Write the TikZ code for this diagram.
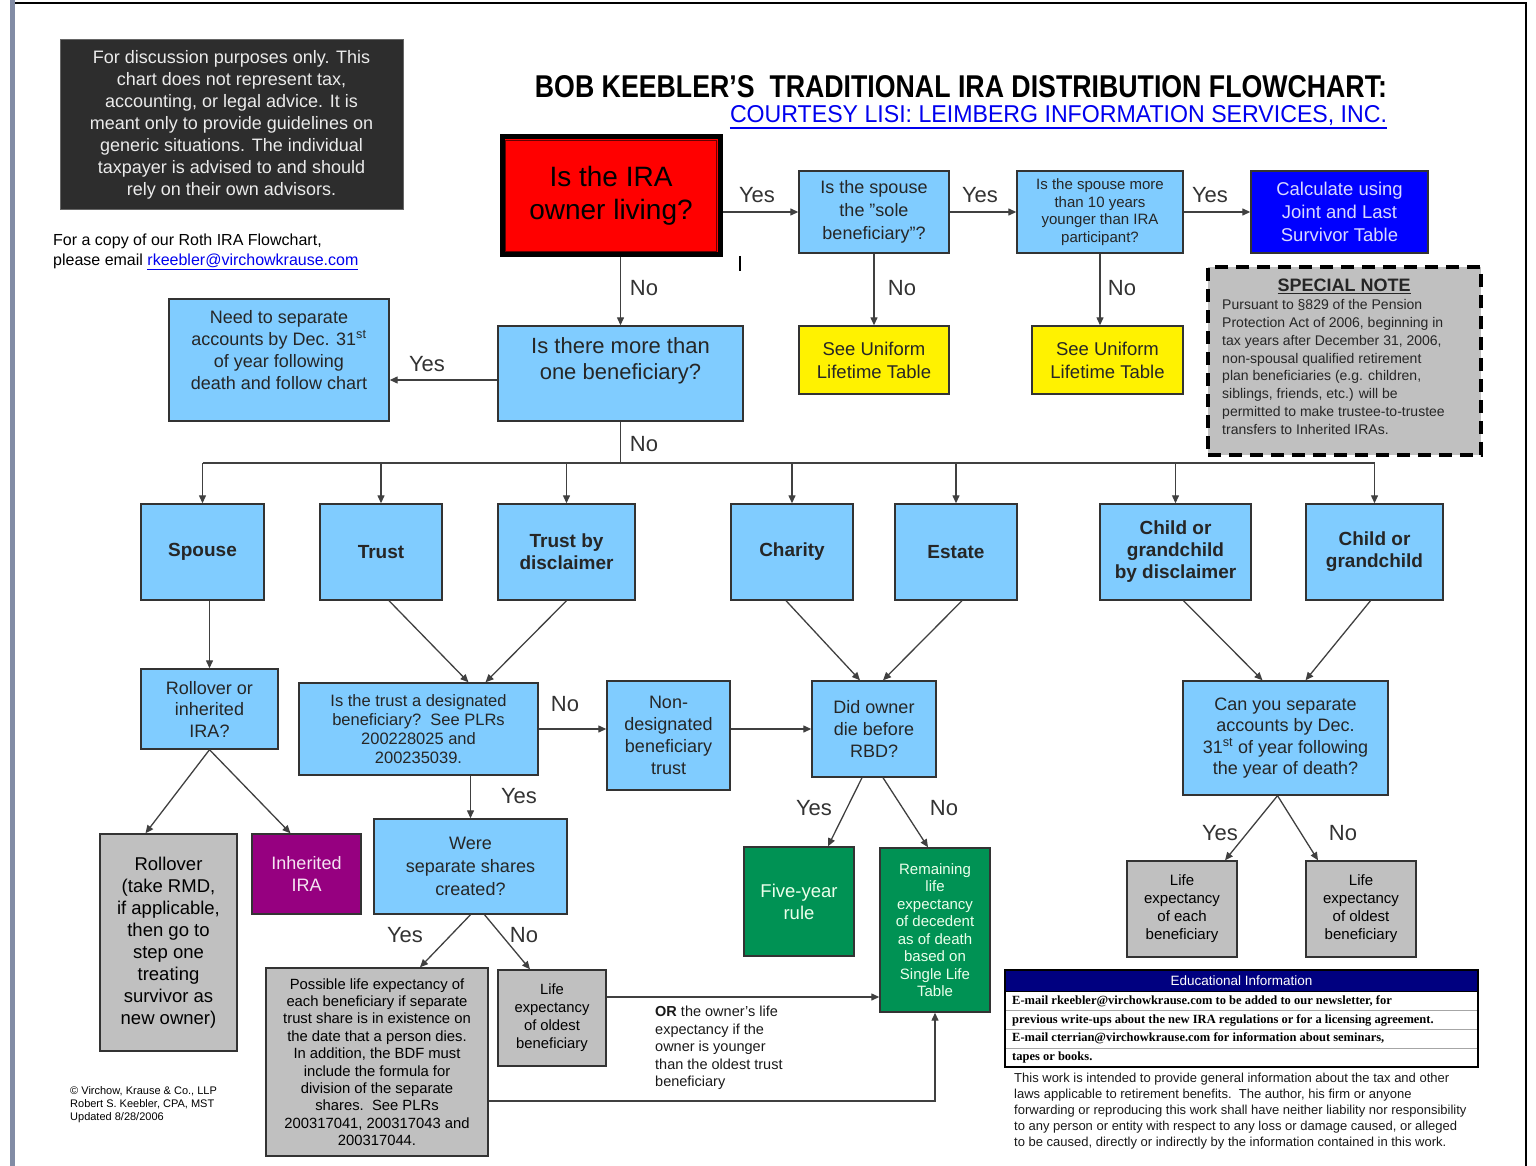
\documentclass[tikz,border=0pt]{standalone}
\usepackage{fontspec}
\setmainfont{Liberation Sans}
\newfontfamily\edufont{Liberation Serif}
\usetikzlibrary{arrows.meta}
\definecolor{qblue}{RGB}{128,204,255}
\definecolor{boxgray}{RGB}{192,192,192}
\definecolor{grnbox}{RGB}{0,146,84}
\definecolor{purp}{RGB}{150,0,128}
\definecolor{navyhead}{RGB}{0,0,128}
\definecolor{discdark}{RGB}{45,45,45}
\definecolor{linkblue}{RGB}{0,0,238}
\definecolor{framebar}{RGB}{130,140,165}
\begin{document}
\begin{tikzpicture}[x=1pt, y=-1pt,
    box/.style={draw=black!80, line width=1.4pt, inner sep=2pt, align=center, text=black!85},
    qbox/.style={box, fill=qblue},
    gbox/.style={box, fill=boxgray, text=black},
    sz/.style 2 args={minimum width=#1pt, minimum height=#2pt},
    fs/.style 2 args={font=\fontsize{#1}{#2}\selectfont},
    bene/.style={qbox, font=\fontsize{19}{22}\selectfont\bfseries},
    lbl/.style={font=\fontsize{22}{24}\selectfont, text=black!80, inner sep=0pt},
    edurow/.style={anchor=west, inner sep=0pt, font=\edufont\bfseries\fontsize{12.5}{14}\selectfont},
    arr/.style={draw=black!75, line width=1.3pt, -{Triangle[length=8pt, width=7pt]}}]
\useasboundingbox (0,0) rectangle (1536,1166);
\fill[framebar] (10,0) rectangle (15,1166);
\draw[line width=2pt] (15,3) -- (1526,3) -- (1526,1166);

\node[fill=discdark, draw=black!60, line width=1pt, sz={343}{170}, align=center, text=black!8, fs={18}{22}] (disc) at (231.5,125) {For discussion purposes only. This\\chart does not represent tax,\\accounting, or legal advice. It is\\meant only to provide guidelines on\\generic situations. The individual\\taxpayer is advised to and should\\rely on their own advisors.};
\node[anchor=west, align=left, fs={16}{20}, inner sep=0pt] (email) at (53,252) {For a copy of our Roth IRA Flowchart,\\please email \textcolor{linkblue}{\underline{rkeebler@virchowkrause.com}}};
\node[inner sep=0pt] (title) at (961,87) {\resizebox{852pt}{22pt}{\bfseries BOB KEEBLER'S\ \ TRADITIONAL IRA DISTRIBUTION FLOWCHART:}};
\node[inner sep=0pt, text=linkblue] (sub) at (1058.5,116) {\resizebox{657pt}{17pt}{COURTESY LISI: LEIMBERG INFORMATION SERVICES, INC.}};
\draw[linkblue, line width=2pt] ([yshift=-1.5pt]sub.south west) -- ([yshift=-1.5pt]sub.south east);

\node[box, fill=red, draw=black, line width=5pt, sz={218}{118}, fs={28}{33}, text=black] (living) at (611,196) {Is the IRA\\owner living?};
\draw[red!40!black, line width=1pt] ([shift={(6,6)}]living.north west) rectangle ([shift={(-6,-6)}]living.south east);
\draw[line width=2.5pt] (740,256) -- (740,271);
\node[qbox, sz={150}{82}, fs={18}{23}] (sole) at (874,212) {Is the spouse\\the "sole\\beneficiary"?};
\node[qbox, sz={166}{82}, fs={15}{17.5}] (ten) at (1100,212) {Is the spouse more\\than 10 years\\younger than IRA\\participant?};
\node[box, fill=blue, sz={177}{82}, fs={18.5}{23}, text=blue!15] (jlst) at (1339.5,212) {Calculate using\\Joint and Last\\Survivor Table};
\node[box, fill=yellow, sz={150}{68}, fs={18.5}{23}] (unif1) at (874,360) {See Uniform\\Lifetime Table};
\node[box, fill=yellow, sz={151}{68}, fs={18.5}{23}] (unif2) at (1107.5,360) {See Uniform\\Lifetime Table};
\node[box, fill=boxgray, draw=black, line width=3.5pt, dash pattern=on 13pt off 8pt, sz={273}{188}] (note) at (1344.5,361) {};
\node[inner sep=0pt, font=\fontsize{18}{20}\selectfont\bfseries, text=black!85] (notehead) at (1344,286) {\underline{SPECIAL NOTE}};
\node[anchor=west, align=left, inner sep=0pt, fs={14}{17.8}, text=black!85] (notebody) at (1222,367) {Pursuant to \S829 of the Pension\\Protection Act of 2006, beginning in\\tax years after December 31, 2006,\\non-spousal qualified retirement\\plan beneficiaries (e.g. children,\\siblings, friends, etc.) will be\\permitted to make trustee-to-trustee\\transfers to Inherited IRAs.};

\node[qbox, sz={245}{95}, fs={22}{26}, text depth=30pt] (more) at (620.5,373.5) {Is there more than\\one beneficiary?};
\node[qbox, sz={220}{122}, fs={18}{22}, text depth=21pt] (need) at (279,360) {Need to separate\\accounts by Dec. 31\textsuperscript{st}\\of year following\\death and follow chart};

\node[bene, sz={123}{96}] (spouse) at (202.5,552) {Spouse};
\node[bene, sz={122}{96}] (trust) at (381,552) {Trust};
\node[bene, sz={137}{96}] (trustdis) at (566.5,552) {Trust by\\disclaimer};
\node[bene, sz={122}{96}] (charity) at (792,552) {Charity};
\node[bene, sz={122}{96}] (estate) at (956,552) {Estate};
\node[bene, sz={151}{96}] (childdis) at (1175.5,552) {Child or\\grandchild\\by disclaimer};
\node[bene, sz={137}{96}] (child) at (1374.5,552) {Child or\\grandchild};

\node[qbox, sz={137}{80}, fs={18}{21.5}] (rollq) at (209.5,709) {Rollover or\\inherited\\IRA?};
\node[qbox, sz={239}{92}, fs={16.5}{19}] (trustq) at (418.5,729) {Is the trust a designated\\beneficiary?\ \ See PLRs\\200228025 and\\200235039.};
\node[qbox, sz={123}{109}, fs={18}{22}] (nondes) at (668.5,735.5) {Non-\\designated\\beneficiary\\trust};
\node[qbox, sz={124}{96}, fs={18}{22}] (rbd) at (874,729) {Did owner\\die before\\RBD?};
\node[qbox, sz={205}{114}, fs={18}{21.5}] (canyou) at (1285.5,738) {Can you separate\\accounts by Dec.\\31\textsuperscript{st} of year following\\the year of death?};

\node[gbox, sz={137}{217}, fs={18.5}{22}] (rollover) at (168.5,942.5) {Rollover\\(take RMD,\\if applicable,\\then go to\\step one\\treating\\survivor as\\new owner)};
\node[box, fill=purp, sz={109}{80}, fs={18}{22}, text=purp!10] (inherited) at (306.5,874) {Inherited\\IRA};
\node[qbox, sz={193}{95}, fs={18}{23}] (shares) at (470.5,866.5) {Were\\separate shares\\created?};
\node[box, fill=grnbox, sz={110}{109}, fs={18.5}{22}, text=green!8] (fiveyr) at (799,901.5) {Five-year\\rule};
\node[box, fill=grnbox, sz={110}{164}, fs={15}{17.5}, text=green!8] (remaining) at (935,930) {Remaining\\life\\expectancy\\of decedent\\as of death\\based on\\Single Life\\Table};
\node[gbox, sz={110}{96}, fs={15}{18}] (each) at (1182,909) {Life\\expectancy\\of each\\beneficiary};
\node[gbox, sz={110}{96}, fs={15}{18}] (oldest2) at (1361,909) {Life\\expectancy\\of oldest\\beneficiary};
\node[gbox, sz={222}{188}, fs={14.8}{17.4}] (possible) at (377,1062) {Possible life expectancy of\\each beneficiary if separate\\trust share is in existence on\\the date that a person dies.\\In addition, the BDF must\\include the formula for\\division of the separate\\shares.\ \ See PLRs\\200317041, 200317043 and\\200317044.};
\node[gbox, sz={108}{96}, fs={14.8}{18}] (oldest1) at (552,1018) {Life\\expectancy\\of oldest\\beneficiary};
\node[anchor=west, align=left, inner sep=0pt, fs={14.5}{17.4}, text=black!90] (ortext) at (655,1048) {\textbf{OR} the owner's life\\expectancy if the\\owner is younger\\than the oldest trust\\beneficiary};

\node[fill=white, inner sep=0pt, sz={473}{97}] (edu) at (1241.5,1018.5) {};
\fill[navyhead] (edu.north west) rectangle ([yshift=-21pt]edu.north east);
\foreach \yy in {1010,1029,1048} \draw[black!35, line width=1pt] (1006,\yy) -- (1477,\yy);
\draw[line width=1.5pt] (1005,991.5) -- (1478,991.5);
\draw[line width=2.5pt] (edu.north west) rectangle (edu.south east);
\node[inner sep=0pt, text=white, fs={13.5}{15}] (eduhead) at (1241.5,981) {Educational Information};
\node[edurow] (edu1) at (1012,1001) {E-mail rkeebler@virchowkrause.com to be added to our newsletter, for};
\node[edurow] (edu2) at (1012,1020) {previous write-ups about the new IRA regulations or for a licensing agreement.};
\node[edurow] (edu3) at (1012,1038) {E-mail cterrian@virchowkrause.com for information about seminars,};
\node[edurow] (edu4) at (1012,1057) {tapes or books.};
\node[anchor=west, align=left, inner sep=0pt, fs={13}{16}, text=black!90] (legal) at (1014,1111) {This work is intended to provide general information about the tax and other\\laws applicable to retirement benefits.\ \ The author, his firm or anyone\\forwarding or reproducing this work shall have neither liability nor responsibility\\to any person or entity with respect to any loss or damage caused, or alleged\\to be caused, directly or indirectly by the information contained in this work.};
\node[anchor=west, align=left, inner sep=0pt, fs={11}{13}] (copy) at (70,1105) {\textcopyright\ Virchow, Krause \& Co., LLP\\Robert S. Keebler, CPA, MST\\Updated 8/28/2006};

\draw[arr] (living.east |- sole.west) -- (sole.west);
\draw[arr] (sole.east) -- (ten.west);
\draw[arr] (ten.east) -- (jlst.west);
\draw[arr] (sole.south) -- (unif1.north);
\draw[arr] (ten.south) -- (ten.south |- unif2.north);
\draw[arr] (more.north |- living.south) -- (more.north);
\coordinate (m1) at ([yshift=-6.5pt]more.west);
\draw[arr] (m1) -- (m1 -| need.east);
\coordinate (bus) at (620.5,463);
\draw[draw=black!75, line width=1.3pt] (more.south) -- (bus);
\draw[draw=black!75, line width=1.3pt] (spouse.north |- bus) -- (child.north |- bus);
\foreach \n in {spouse,trust,trustdis,charity,estate,childdis,child} \draw[arr] (\n.north |- bus) -- (\n.north);
\draw[arr] (rollq.north |- spouse.south) -- (rollq.north);
\draw[arr] ([xshift=8pt]trust.south) -- ([xshift=50pt]trustq.north);
\draw[arr] (trustdis.south) -- ([xshift=67pt]trustq.north);
\draw[arr] ([xshift=-6pt]charity.south) -- ([xshift=-14pt]rbd.north);
\draw[arr] ([xshift=6pt]estate.south) -- ([xshift=9pt]rbd.north);
\draw[arr] ([xshift=8pt]childdis.south) -- ([xshift=-23pt]canyou.north);
\draw[arr] ([xshift=-4pt]child.south) -- ([xshift=20pt]canyou.north);
\draw[arr] (rollq.south) -- ([xshift=-23pt]rollover.north);
\draw[arr] (rollq.south) -- ([xshift=-16pt]inherited.north);
\draw[arr] (trustq.east) -- (trustq.east -| nondes.west);
\draw[arr] (nondes.east |- rbd.west) -- (rbd.west);
\draw[arr] (shares.north |- trustq.south) -- (shares.north);
\draw[arr] (shares.south) -- ([xshift=43pt]possible.north);
\draw[arr] ([xshift=14pt]shares.south) -- ([xshift=-22pt]oldest1.north);
\draw[arr] ([xshift=-12pt]rbd.south) -- ([xshift=29pt]fiveyr.north);
\draw[arr] ([xshift=9pt]rbd.south) -- ([xshift=-7pt]remaining.north);
\draw[arr] ([xshift=-8pt]canyou.south) -- ([xshift=43pt]each.north);
\draw[arr] ([xshift=-8pt]canyou.south) -- ([xshift=-43pt]oldest2.north);
\coordinate (o1) at ([yshift=21pt]oldest1.east);
\draw[arr] (o1) -- (o1 -| remaining.west);
\coordinate (p1) at ([yshift=-39pt]possible.east);
\draw[arr] (p1) -| (remaining.south);

\node[lbl] (y1) at (757,195) {Yes};
\node[lbl] (y2) at (980,195) {Yes};
\node[lbl] (y3) at (1210,195) {Yes};
\node[lbl] (n1) at (644,288) {No};
\node[lbl] (n2) at (902,288) {No};
\node[lbl] (n3) at (1122,288) {No};
\node[lbl] (y4) at (427,364) {Yes};
\node[lbl] (n4) at (644,444) {No};
\node[lbl] (n5) at (565,704) {No};
\node[lbl] (y5) at (519,796) {Yes};
\node[lbl] (y6) at (814,808) {Yes};
\node[lbl] (n6) at (944,808) {No};
\node[lbl] (y7) at (405,935) {Yes};
\node[lbl] (n7) at (524,935) {No};
\node[lbl] (y8) at (1220,833) {Yes};
\node[lbl] (n8) at (1343,833) {No};
\end{tikzpicture}
\end{document}
